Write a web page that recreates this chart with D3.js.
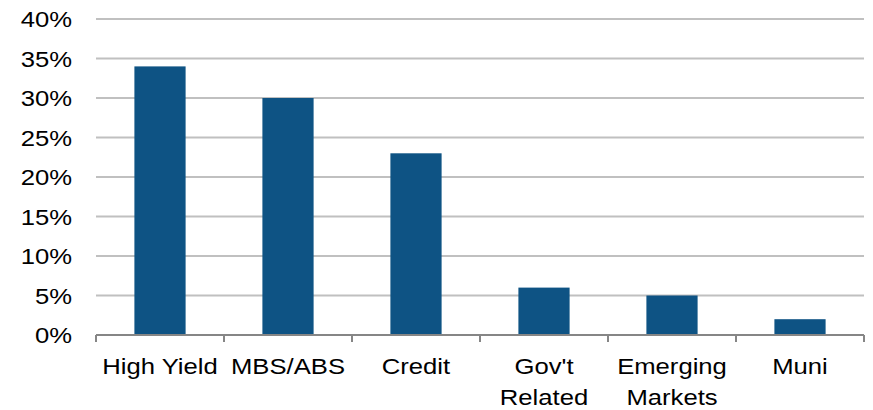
<!DOCTYPE html>
<html>
<head>
<meta charset="utf-8">
<script src="https://cdn.jsdelivr.net/npm/d3@7"></script>
<style>
body { margin: 0; background: #fff; }
text { font-family: "Liberation Sans", Arial, sans-serif; fill: #000; }
.grid line { stroke: #c0c0c0; stroke-width: 2; }
.axis line, .axis path { stroke: #868686; stroke-width: 2; fill: none; }
</style>
</head>
<body>
<div></div>
<script>
var w = 873;
var h = 410;

// data
var categories = [["High Yield"], ["MBS/ABS"], ["Credit"], ["Gov't", "Related"], ["Emerging", "Markets"], ["Muni"]];
var values = [34, 30, 23, 6, 5, 2];
var yTicks = [0, 5, 10, 15, 20, 25, 30, 35, 40];

var plotLeft = 96, plotRight = 864, plotTop = 19, plotBottom = 335;
var fs = 22.5, sx = 1.14;

var svg = d3.select("div").append("svg")
	.attr("width", w)
	.attr("height", h);

var x = d3.scaleBand()
	.domain(d3.range(categories.length))
	.range([plotLeft, plotRight])
	.paddingInner(0.6)
	.paddingOuter(0.3);

var xEdge = d3.scaleLinear()
	.domain([0, categories.length])
	.range([plotLeft, plotRight]);

var y = d3.scaleLinear()
	.domain([0, 40])
	.range([plotBottom, plotTop]);

//gridlines
svg.append("g").attr("class", "grid")
	.selectAll("line")
	.data(yTicks.filter(function(d) { return d > 0; }))
	.enter()
	.append("line")
	.attr("x1", plotLeft)
	.attr("x2", plotRight)
	.attr("y1", function(d) { return y(d); })
	.attr("y2", function(d) { return y(d); });

//y labels
svg.append("g")
	.selectAll("text")
	.data(yTicks)
	.enter()
	.append("text")
	.attr("transform", function(d) { return "translate(72," + (y(d) + 8) + ") scale(" + sx + ",1)"; })
	.attr("text-anchor", "end")
	.style("font-size", fs + "px")
	.text(function(d) { return d + "%"; });

//bars
svg.append("g")
	.selectAll("rect")
	.data(values)
	.enter()
	.append("rect")
	.attr("x", function(d, i) { return x(i); })
	.attr("width", x.bandwidth())
	.attr("y", function(d) { return y(d); })
	.attr("height", function(d) { return y(0) - y(d); })
	.attr("fill", "#0E5384");

//x axis
var axis = svg.append("g").attr("class", "axis");
axis.append("line")
	.attr("x1", plotLeft)
	.attr("x2", plotRight)
	.attr("y1", plotBottom)
	.attr("y2", plotBottom);

axis.selectAll("line.tick")
	.data(d3.range(categories.length + 1))
	.enter()
	.append("line")
	.attr("class", "tick")
	.attr("x1", function(d) { return xEdge(d); })
	.attr("x2", function(d) { return xEdge(d); })
	.attr("y1", plotBottom)
	.attr("y2", plotBottom + 7);

//x labels
var lab = svg.append("g")
	.selectAll("text")
	.data(categories)
	.enter()
	.append("text")
	.attr("transform", function(d, i) { return "translate(" + (x(i) + x.bandwidth() / 2) + ",374) scale(" + sx + ",1)"; })
	.attr("text-anchor", "middle")
	.style("font-size", fs + "px");

lab.selectAll("tspan")
	.data(function(d) { return d; })
	.enter()
	.append("tspan")
	.attr("x", 0)
	.attr("dy", function(d, i) { return i == 0 ? 0 : 31; })
	.text(function(d) { return d; });
</script>
</body>
</html>
